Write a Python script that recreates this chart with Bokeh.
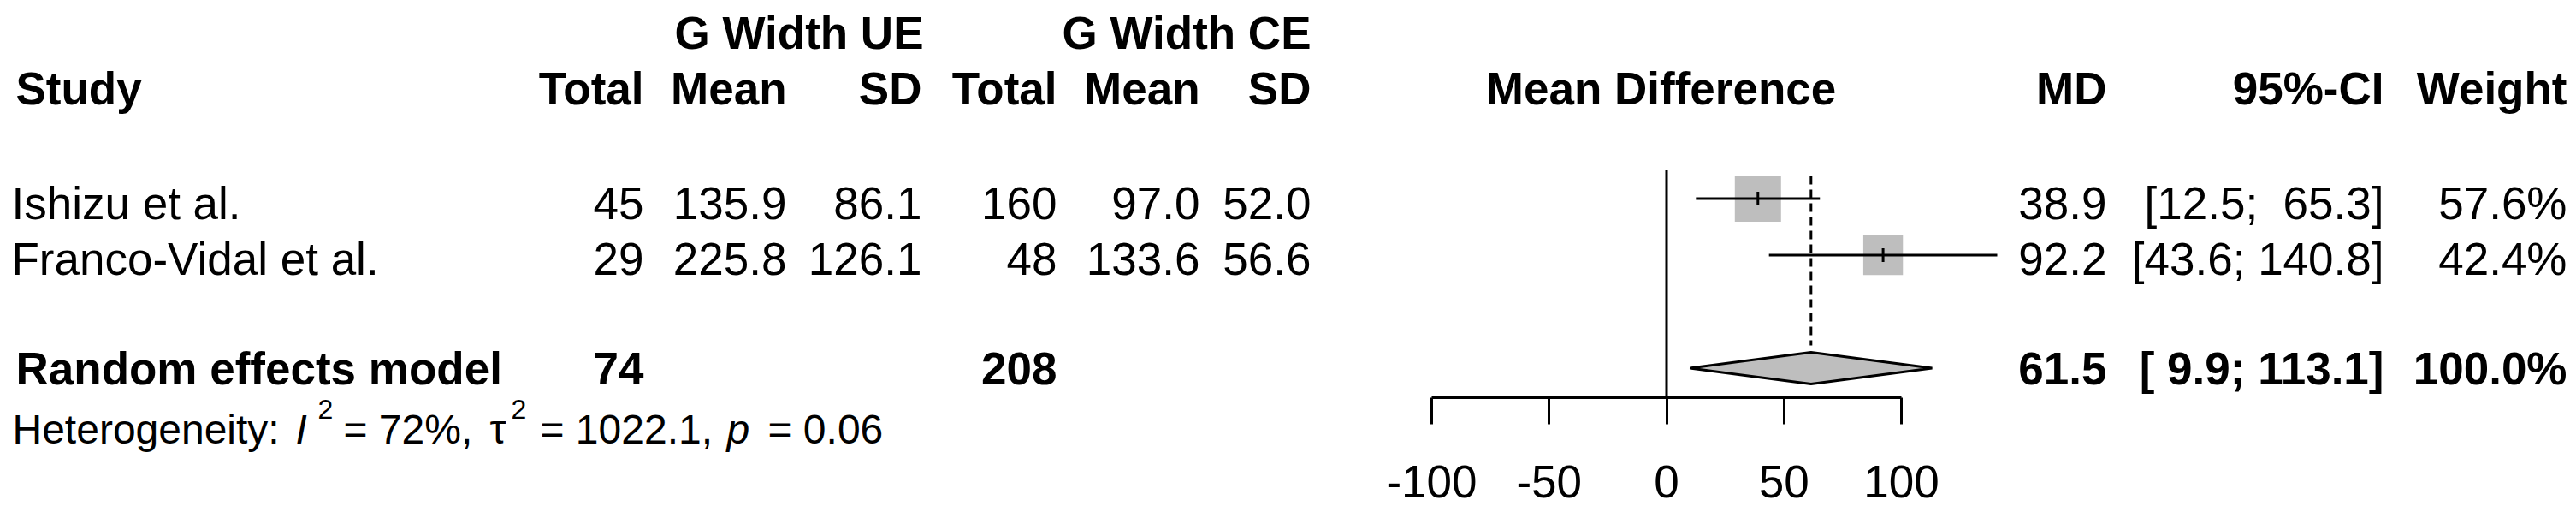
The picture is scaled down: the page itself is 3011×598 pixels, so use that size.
import math
from bokeh.plotting import figure
from bokeh.models import ColumnDataSource, Range1d, LinearAxis, FixedTicker
from bokeh.core.properties import value
from bokeh.embed import file_html
from bokeh.resources import INLINE

# ---------------- data ----------------
studies = ["Ishizu et al.", "Franco-Vidal et al."]
ue_total = [45, 29]
ue_mean = [135.9, 225.8]
ue_sd = [86.1, 126.1]
ce_total = [160, 48]
ce_mean = [97.0, 133.6]
ce_sd = [52.0, 56.6]
md = [38.9, 92.2]
ci_lower = [12.5, 43.6]
ci_upper = [65.3, 140.8]
weights = [57.6, 42.4]

re_label = "Random effects model"
re_md = 61.5
re_lower = 9.9
re_upper = 113.1
re_weight = 100.0
ue_total_sum = 74
ce_total_sum = 208

het_i2 = "72%"
het_tau2 = "1022.1"
het_p = "0.06"

group_labels = ["G Width UE", "G Width CE"]
col_headers = ["Total", "Mean", "SD", "Total", "Mean", "SD"]
right_headers = ["MD", "95%-CI", "Weight"]
axis_ticks = [-100, -50, 0, 50, 100]
null_effect = 0

# ---------------- layout helpers ----------------
W, H = 3011, 598
FONT = "Liberation Sans"
FS = "53px"
HFS_N = 48              # heterogeneity line font size (px)
HFS = f"{HFS_N}px"
SFS_N = 32              # superscripts
SFS = f"{SFS_N}px"
PXU = 2.745             # pixels per MD unit
ZERO = 1947.5           # page px of MD = 0
PITCH = 66.0            # px per row
ROW1 = 231.5            # page px of first study row
AXIS_Y = 464            # page px of the x axis line
TSHIFT = 20.5 / 53      # text baseline correction (fraction of font size)


def X(px):
    return (px - ZERO) / PXU


def Y(px):
    return 1 + (px - ROW1) / PITCH


def TY(baseline_px, size=53):
    return Y(baseline_px - TSHIFT * size)


study_rows = [1, 2]
summary_row = 4

p = figure(width=W, height=H, x_range=Range1d(X(0), X(W)), y_range=Range1d(Y(H), Y(0)),
           x_axis_type=None, y_axis_type=None,
           toolbar_location=None, output_backend="svg",
           min_border=0, outline_line_color=None,
           background_fill_color="white", border_fill_color="white")

# ---------------- axis (drawn inside the frame at a fixed location) ----------------
ax = LinearAxis(ticker=FixedTicker(ticks=axis_ticks, minor_ticks=[]),
                bounds=(axis_ticks[0], axis_ticks[-1]),
                fixed_location=Y(AXIS_Y))
ax.major_label_overrides = {t: str(t) for t in axis_ticks}
ax.major_tick_out = 31
ax.major_tick_in = 0
ax.minor_tick_out = 0
ax.minor_tick_in = 0
ax.axis_line_width = 3
ax.major_tick_line_width = 3
ax.axis_line_color = "black"
ax.major_tick_line_color = "black"
ax.major_label_text_font = FONT
ax.major_label_text_font_size = FS
ax.major_label_text_color = "black"
ax.major_label_standoff = 48
p.add_layout(ax, "below")

# ---------------- forest marks ----------------
p.segment(x0=[null_effect], y0=[0.5], x1=[null_effect], y1=[Y(AXIS_Y)],
          line_color="black", line_width=3)

SQ = 54 / math.sqrt(weights[0])
p.scatter(x=md, y=study_rows, marker="square",
          size=[SQ * math.sqrt(w) for w in weights],
          fill_color="#BEBEBE", line_color=None)

p.segment(x0=[re_md], y0=[0.6], x1=[re_md], y1=[3.6],
          line_color="black", line_width=3, line_dash="10 6")

p.segment(x0=ci_lower, y0=study_rows, x1=ci_upper, y1=study_rows,
          line_color="black", line_width=3)
TK = 8 / PITCH
p.segment(x0=md, y0=[r - TK for r in study_rows], x1=md, y1=[r + TK for r in study_rows],
          line_color="black", line_width=3)

DH = 18.5 / PITCH
p.patch(x=[re_lower, re_md, re_upper, re_md],
        y=[summary_row, summary_row - DH, summary_row, summary_row + DH],
        fill_color="#BEBEBE", line_color="black", line_width=3)


# ---------------- text ----------------
def add_text(xs_px, ys, texts, align, style="normal", size=FS):
    src = ColumnDataSource(dict(x=[X(v) for v in xs_px], y=ys, text=texts))
    p.text(x="x", y="y", text="text", source=src,
           text_font=value(FONT), text_font_size=value(size),
           text_font_style=style, text_align=align,
           text_baseline="alphabetic", text_color="black")


def fmt1(v):
    return f"{v:.1f}"


def pad(vals):
    s = [fmt1(v) for v in vals]
    n = max(len(t) for t in s)
    return [t.rjust(n).replace(" ", "\u00a0") for t in s]


row_y = [TY(257), TY(322)]
sum_y = TY(450)
h1_y = TY(58)
h2_y = TY(123)

# headers
add_text([18], [h2_y], ["Study"], "left", "bold")
hdr_right = [752, 919, 1077, 1235, 1402, 1532]
add_text(hdr_right, [h2_y] * 6, col_headers, "right", "bold")
add_text([1079, 1532], [h1_y, h1_y], group_labels, "right", "bold")
add_text([1941], [h2_y], ["Mean Difference"], "center", "bold")
add_text([2462, 2786, 3000], [h2_y] * 3, right_headers, "right", "bold")

# study rows
add_text([13] * 2, row_y, studies, "left")
add_text([752] * 2, row_y, [str(v) for v in ue_total], "right")
add_text([919] * 2, row_y, [fmt1(v) for v in ue_mean], "right")
add_text([1077] * 2, row_y, [fmt1(v) for v in ue_sd], "right")
add_text([1235] * 2, row_y, [str(v) for v in ce_total], "right")
add_text([1402] * 2, row_y, [fmt1(v) for v in ce_mean], "right")
add_text([1532] * 2, row_y, [fmt1(v) for v in ce_sd], "right")

lows = pad(ci_lower + [re_lower])
ups = pad(ci_upper + [re_upper])
ci_txt = [f"[{a}; {b}]" for a, b in zip(lows, ups)]
add_text([2462] * 2, row_y, [fmt1(v) for v in md], "right")
add_text([2786] * 2, row_y, ci_txt[:2], "right")
add_text([3000] * 2, row_y, [fmt1(v) + "%" for v in weights], "right")

# summary row
add_text([18], [sum_y], [re_label], "left", "bold")
add_text([752, 1235], [sum_y] * 2, [str(ue_total_sum), str(ce_total_sum)], "right", "bold")
add_text([2462, 2786, 3000], [sum_y] * 3,
         [fmt1(re_md), ci_txt[2], fmt1(re_weight) + "%"], "right", "bold")

# heterogeneity line
hb = TY(520, HFS_N)
sb = TY(490, SFS_N)
add_text([14], [hb], ["Heterogeneity:"], "left", "normal", HFS)
add_text([345, 849], [hb, hb], ["I", "p"], "left", "italic", HFS)
add_text([371, 597], [sb, sb], ["2", "2"], "left", "normal", SFS)
add_text([401, 572, 631, 897], [hb] * 4,
         ["= " + het_i2 + ",", "\u03c4", "= " + het_tau2 + ",", "= " + het_p], "left", "normal", HFS)

open("out.html", "w").write(file_html(p, INLINE))
